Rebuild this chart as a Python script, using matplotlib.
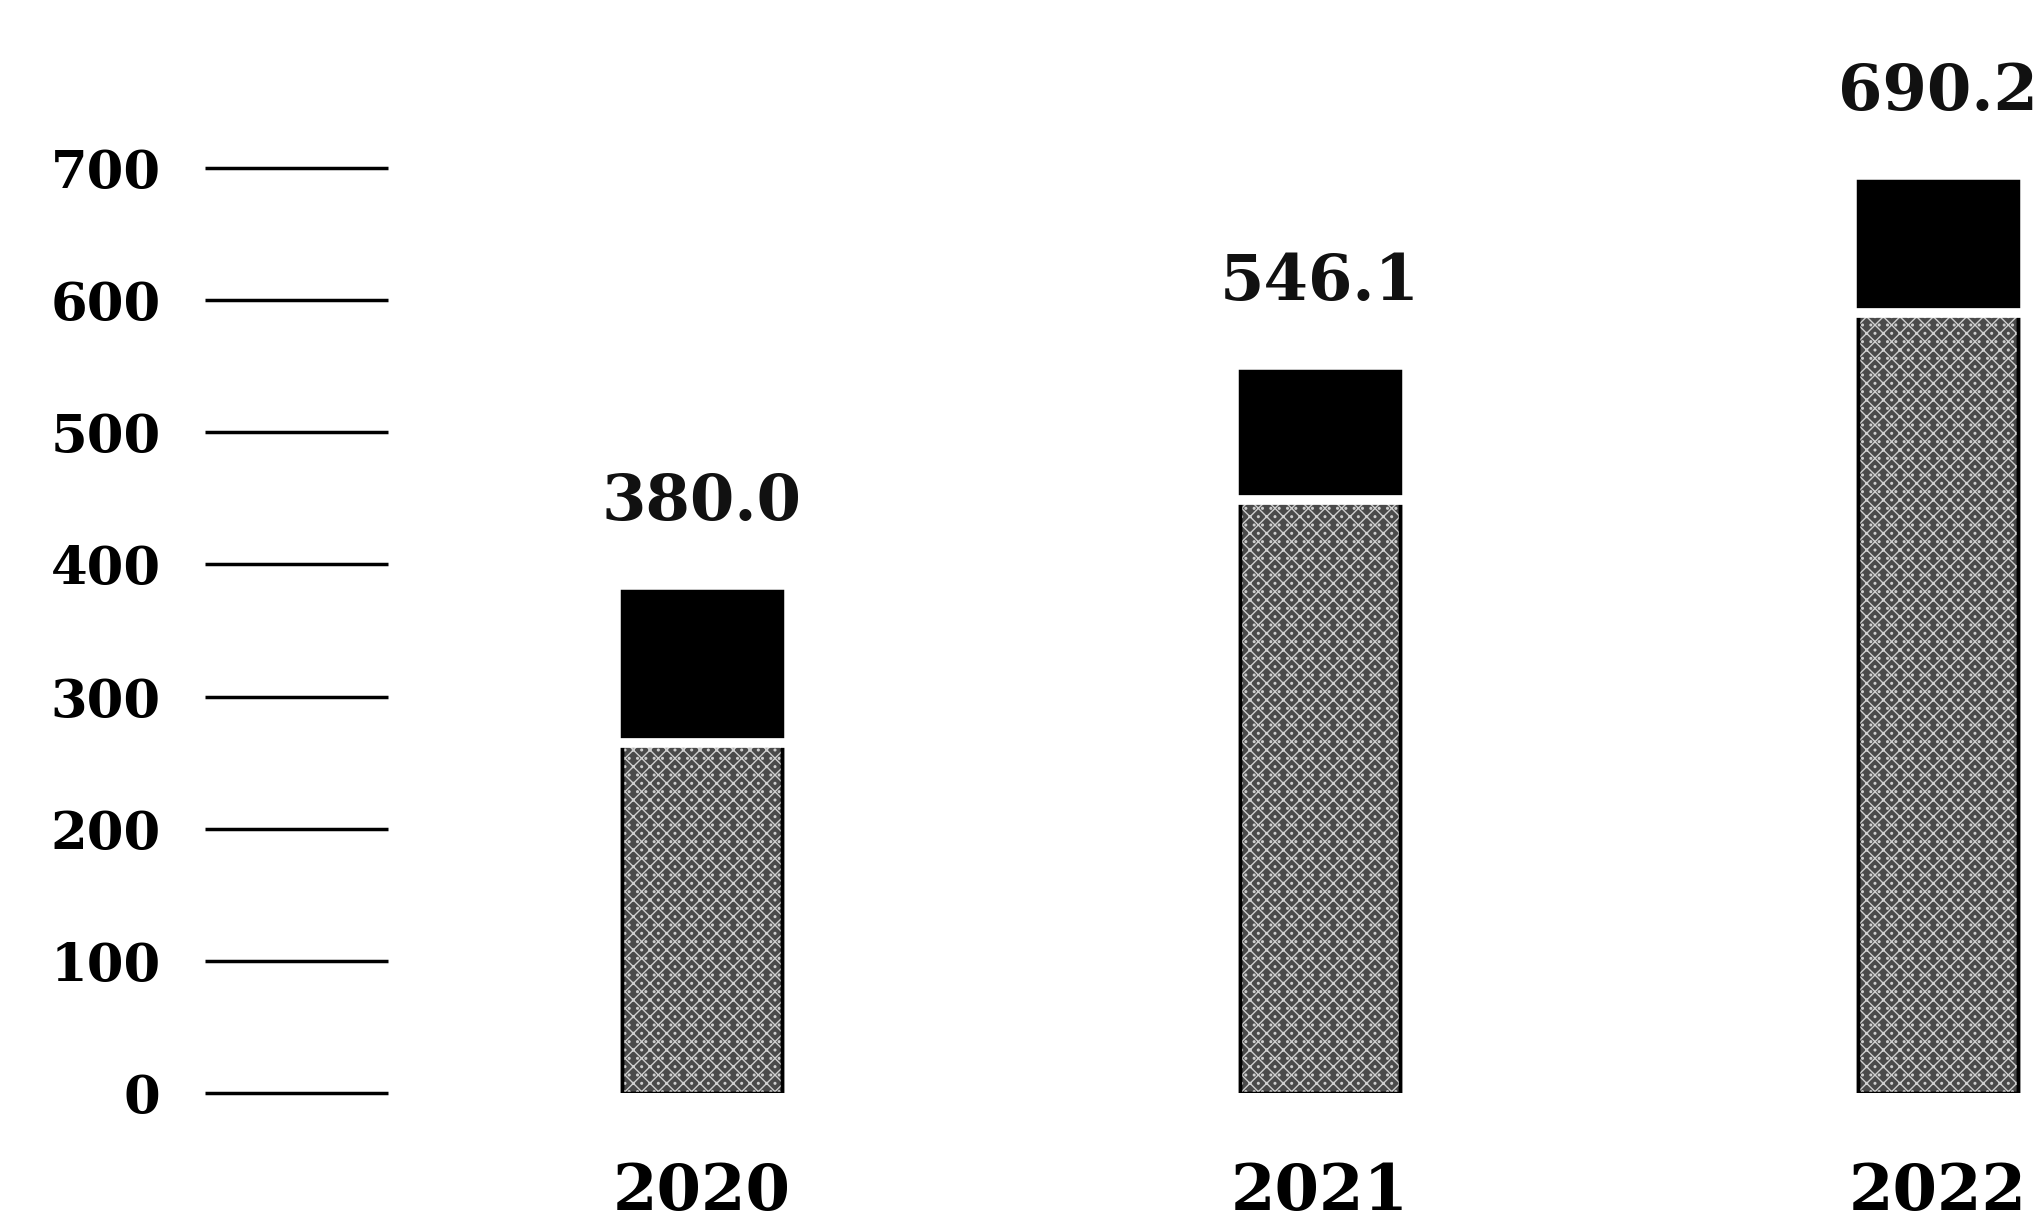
import matplotlib
matplotlib.use('Agg')
from matplotlib import pyplot as plt
import numpy as np

# Values
years = ['2020', '2021', '2022']
totals = [380.0, 546.1, 690.2]
lower = [265, 449, 590]
upper = [t - l for t, l in zip(totals, lower)]
yticks = [0, 100, 200, 300, 400, 500, 600, 700]

plt.rcParams['font.family'] = ['DejaVu Serif']
plt.rcParams['font.weight'] = 'bold'

fig = plt.figure(figsize=(20.38, 12.26), dpi=100)
ax = fig.add_axes([205 / 2038, (1226 - 1093) / 1226, 1 - 205 / 2038, (1093 - 168) / 1226])

x = np.arange(len(years))
w = 0.26

# lower segment: grey with black frame, then a light stipple over it
ax.bar(x, lower, width=w, color='#4a4a4a', edgecolor='black', linewidth=2.5, zorder=2)
ax.bar(x, lower, width=w, color='none', edgecolor='#cfcfcf', hatch='xx..', linewidth=0, zorder=3)
ax.bar(x, lower, width=w, color='none', edgecolor='black', linewidth=2.5, zorder=4)
# upper segment: solid black
ax.bar(x, upper, bottom=lower, width=w, color='black', edgecolor='black', linewidth=2.5, zorder=5)
# thin white gap between the two parts
ax.hlines(lower, x - w / 2 - 0.01, x + w / 2 + 0.01, color='white', linewidth=7, zorder=6)

for xi, t in zip(x, totals):
    ax.text(xi, t + 67, f'{t:.1f}', ha='center', va='center', fontsize=46,
            fontweight='bold', color='#111111')

# short scale lines on the left
ax.hlines(yticks, -0.804, -0.508, color='black', linewidth=2.5, clip_on=False)

ax.set_xlim(-0.804, 2.162)
ax.set_ylim(0, 700)
ax.set_yticks(yticks)
ax.set_yticklabels([str(v) for v in yticks], fontsize=38, fontweight='bold')
ax.set_xticks(x)
ax.set_xticklabels(years, fontsize=46, fontweight='bold')
ax.tick_params(axis='y', length=0, pad=32)
ax.tick_params(axis='x', length=0, pad=50)
for s in ax.spines.values():
    s.set_visible(False)

fig.savefig('out.png', dpi=100, facecolor='white')
